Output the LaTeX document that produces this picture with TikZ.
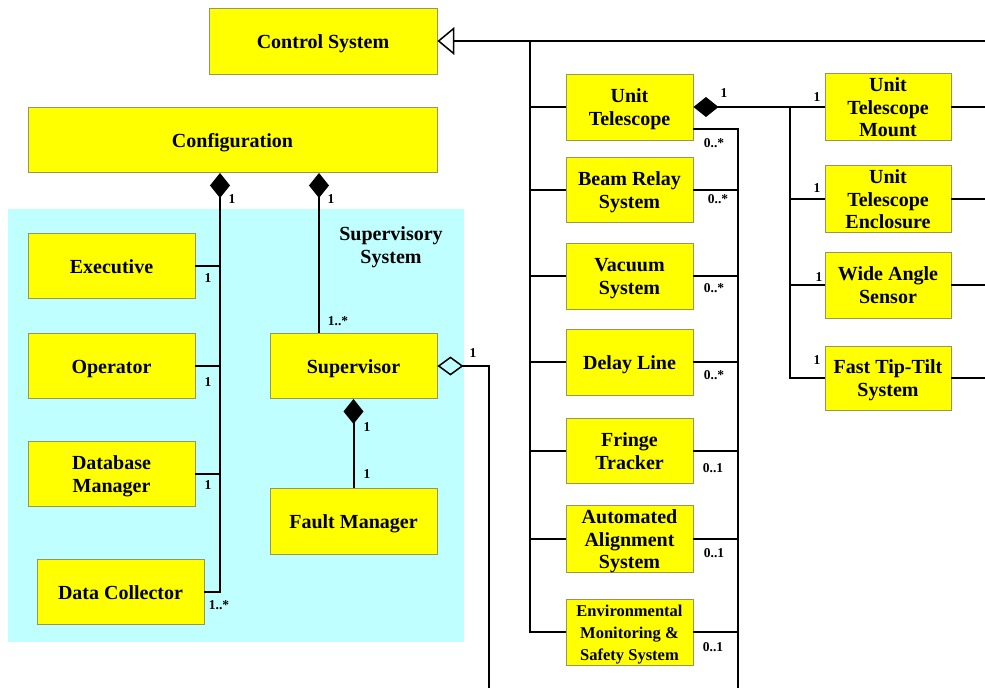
\documentclass[tikz,border=0pt]{standalone}
\usepackage{fontspec}
\setmainfont{Liberation Serif}
\usetikzlibrary{arrows.meta}
\definecolor{boxyellow}{RGB}{255,255,0}
\definecolor{boxedge}{RGB}{150,150,90}
\definecolor{cyanbg}{RGB}{192,255,255}
\newcommand\boxtext[1]{\raisebox{-2.5pt}[\height][\depth]{\begin{tabular}{@{}c@{}}#1\end{tabular}}}
\begin{document}
\begin{tikzpicture}[x=1pt,y=-1pt,line width=2pt,
  cls/.style={draw=boxedge,line width=0.9pt,fill=boxyellow,inner sep=0pt,
    font=\fontsize{20}{22.5}\selectfont\bfseries},
  mult/.style={inner sep=0pt,font=\fontsize{13.5}{15}\selectfont\bfseries},
  comp/.style={{Diamond[length=25pt,width=20pt]}-},
  aggr/.style={{Diamond[open,length=26pt,width=19pt,line width=1.5pt]}-},
  gen/.style={-{Triangle[open,length=17pt,width=28pt,line width=1.5pt]}}]
\useasboundingbox (0,0) rectangle (985,688);
% background of the supervisory system
\fill[cyanbg] (8,209) rectangle (464,642);
\node[inner sep=0pt,font=\fontsize{20}{22.5}\selectfont\bfseries] (suplbl) at (391,245) {\boxtext{Supervisory\\System}};
% classes
\node[cls,minimum width=228pt,minimum height=66pt] (ctrl) at (323,41) {\boxtext{Control System}};
\node[cls,minimum width=409pt,minimum height=65pt] (config) at (232.5,140) {\boxtext{Configuration}};
\node[cls,minimum width=167pt,minimum height=65pt] (exec) at (111.5,266) {\boxtext{Executive}};
\node[cls,minimum width=167pt,minimum height=65pt] (oper) at (111.5,366) {\boxtext{Operator}};
\node[cls,minimum width=167pt,minimum height=65pt] (dbm) at (111.5,474) {\boxtext{Database\\Manager}};
\node[cls,minimum width=167pt,minimum height=65pt] (dcol) at (120.5,592) {\boxtext{Data Collector}};
\node[cls,minimum width=167pt,minimum height=65pt] (sup) at (353.5,366) {\boxtext{Supervisor}};
\node[cls,minimum width=167pt,minimum height=66pt] (fault) at (353.5,521) {\boxtext{Fault Manager}};
\node[cls,minimum width=127pt,minimum height=66pt] (ut) at (629.5,107) {\boxtext{Unit\\Telescope}};
\node[cls,minimum width=127pt,minimum height=65pt] (brs) at (629.5,190) {\boxtext{Beam Relay\\System}};
\node[cls,minimum width=127pt,minimum height=66pt] (vac) at (629.5,276) {\boxtext{Vacuum\\System}};
\node[cls,minimum width=127pt,minimum height=66pt] (dl) at (629.5,362) {\boxtext{Delay Line}};
\node[cls,minimum width=127pt,minimum height=65pt] (ft) at (629.5,451) {\boxtext{Fringe\\Tracker}};
\node[cls,minimum width=127pt,minimum height=66pt] (aas) at (629.5,539) {\boxtext{Automated\\Alignment\\System}};
\node[cls,minimum width=127pt,minimum height=65pt,font=\fontsize{16.5}{22}\selectfont\bfseries] (env) at (629.5,632) {\boxtext{Environmental\\Monitoring \&\\Safety System}};
\node[cls,minimum width=126pt,minimum height=65pt] (utm) at (888,107) {\boxtext{Unit\\Telescope\\Mount}};
\node[cls,minimum width=126pt,minimum height=65pt] (ute) at (888,199) {\boxtext{Unit\\Telescope\\Enclosure}};
\node[cls,minimum width=126pt,minimum height=66pt] (was) at (888,285) {\boxtext{Wide Angle\\Sensor}};
\node[cls,minimum width=126pt,minimum height=64pt] (ftt) at (888,378) {\boxtext{Fast Tip-Tilt\\System}};
% helper coordinates
\coordinate (edgeR) at (985,0);
\coordinate (edgeB) at (0,688);
\coordinate (genR) at (985,41);
\coordinate (busL) at (530,41);
\coordinate (busR) at (738,129);
\coordinate (busM) at (790,107);
\coordinate (lb) at (220,0);
\coordinate (sx) at (319,0);
\coordinate (sb) at (489,688);
% generalization to Control System
\draw[gen] (genR) -- (ctrl.east);
\draw (busL) |- (env.west);
\foreach \n in {ut,brs,vac,dl,ft,aas} \draw (\n.west -| busL) -- (\n.west);
% right bus
\draw (ut.east |- busR) -- (busR) -- (busR |- edgeB);
\foreach \n in {brs,vac,dl,ft,aas,env} \draw (\n.east) -- (\n.east -| busR);
% unit telescope composition
\draw[comp] (ut.east) -- (utm.west);
\draw (busM) |- (ftt.west);
\draw (busM |- ute.west) -- (ute.west);
\draw (busM |- was.west) -- (was.west);
\foreach \n in {utm,ute,was,ftt} \draw (\n.east) -- (\n.east -| edgeR);
% configuration compositions
\draw[comp] (config.south -| lb) |- (dcol.east);
\foreach \n in {exec,oper,dbm} \draw (\n.east) -- (\n.east -| lb);
\draw[comp] (config.south -| sx) -- (sup.north -| sx);
\draw[comp] (sup.south) -- (fault.north);
\draw[aggr] (sup.east) -| (sb);
% multiplicities
\node[mult] (m1) at (232,199) {1};
\node[mult] (m2) at (331,199) {1};
\node[mult] (m3) at (208,278) {1};
\node[mult] (m4) at (208,382) {1};
\node[mult] (m5) at (208,485) {1};
\node[mult] (m6) at (219,605) {1..*};
\node[mult] (m7) at (338,321) {1..*};
\node[mult] (m8) at (473,353) {1};
\node[mult] (m9) at (367,427) {1};
\node[mult] (m10) at (367,474) {1};
\node[mult] (m11) at (724,93) {1};
\node[mult] (m12) at (817,97) {1};
\node[mult] (m13) at (817,188) {1};
\node[mult] (m14) at (819,277) {1};
\node[mult] (m15) at (817,360) {1};
\node[mult] (m16) at (714,143) {0..*};
\node[mult] (m17) at (718,199) {0..*};
\node[mult] (m18) at (714,288) {0..*};
\node[mult] (m19) at (714,375) {0..*};
\node[mult] (m20) at (713,468) {0..1};
\node[mult] (m21) at (714,553) {0..1};
\node[mult] (m22) at (713,647) {0..1};
\end{tikzpicture}
\end{document}
